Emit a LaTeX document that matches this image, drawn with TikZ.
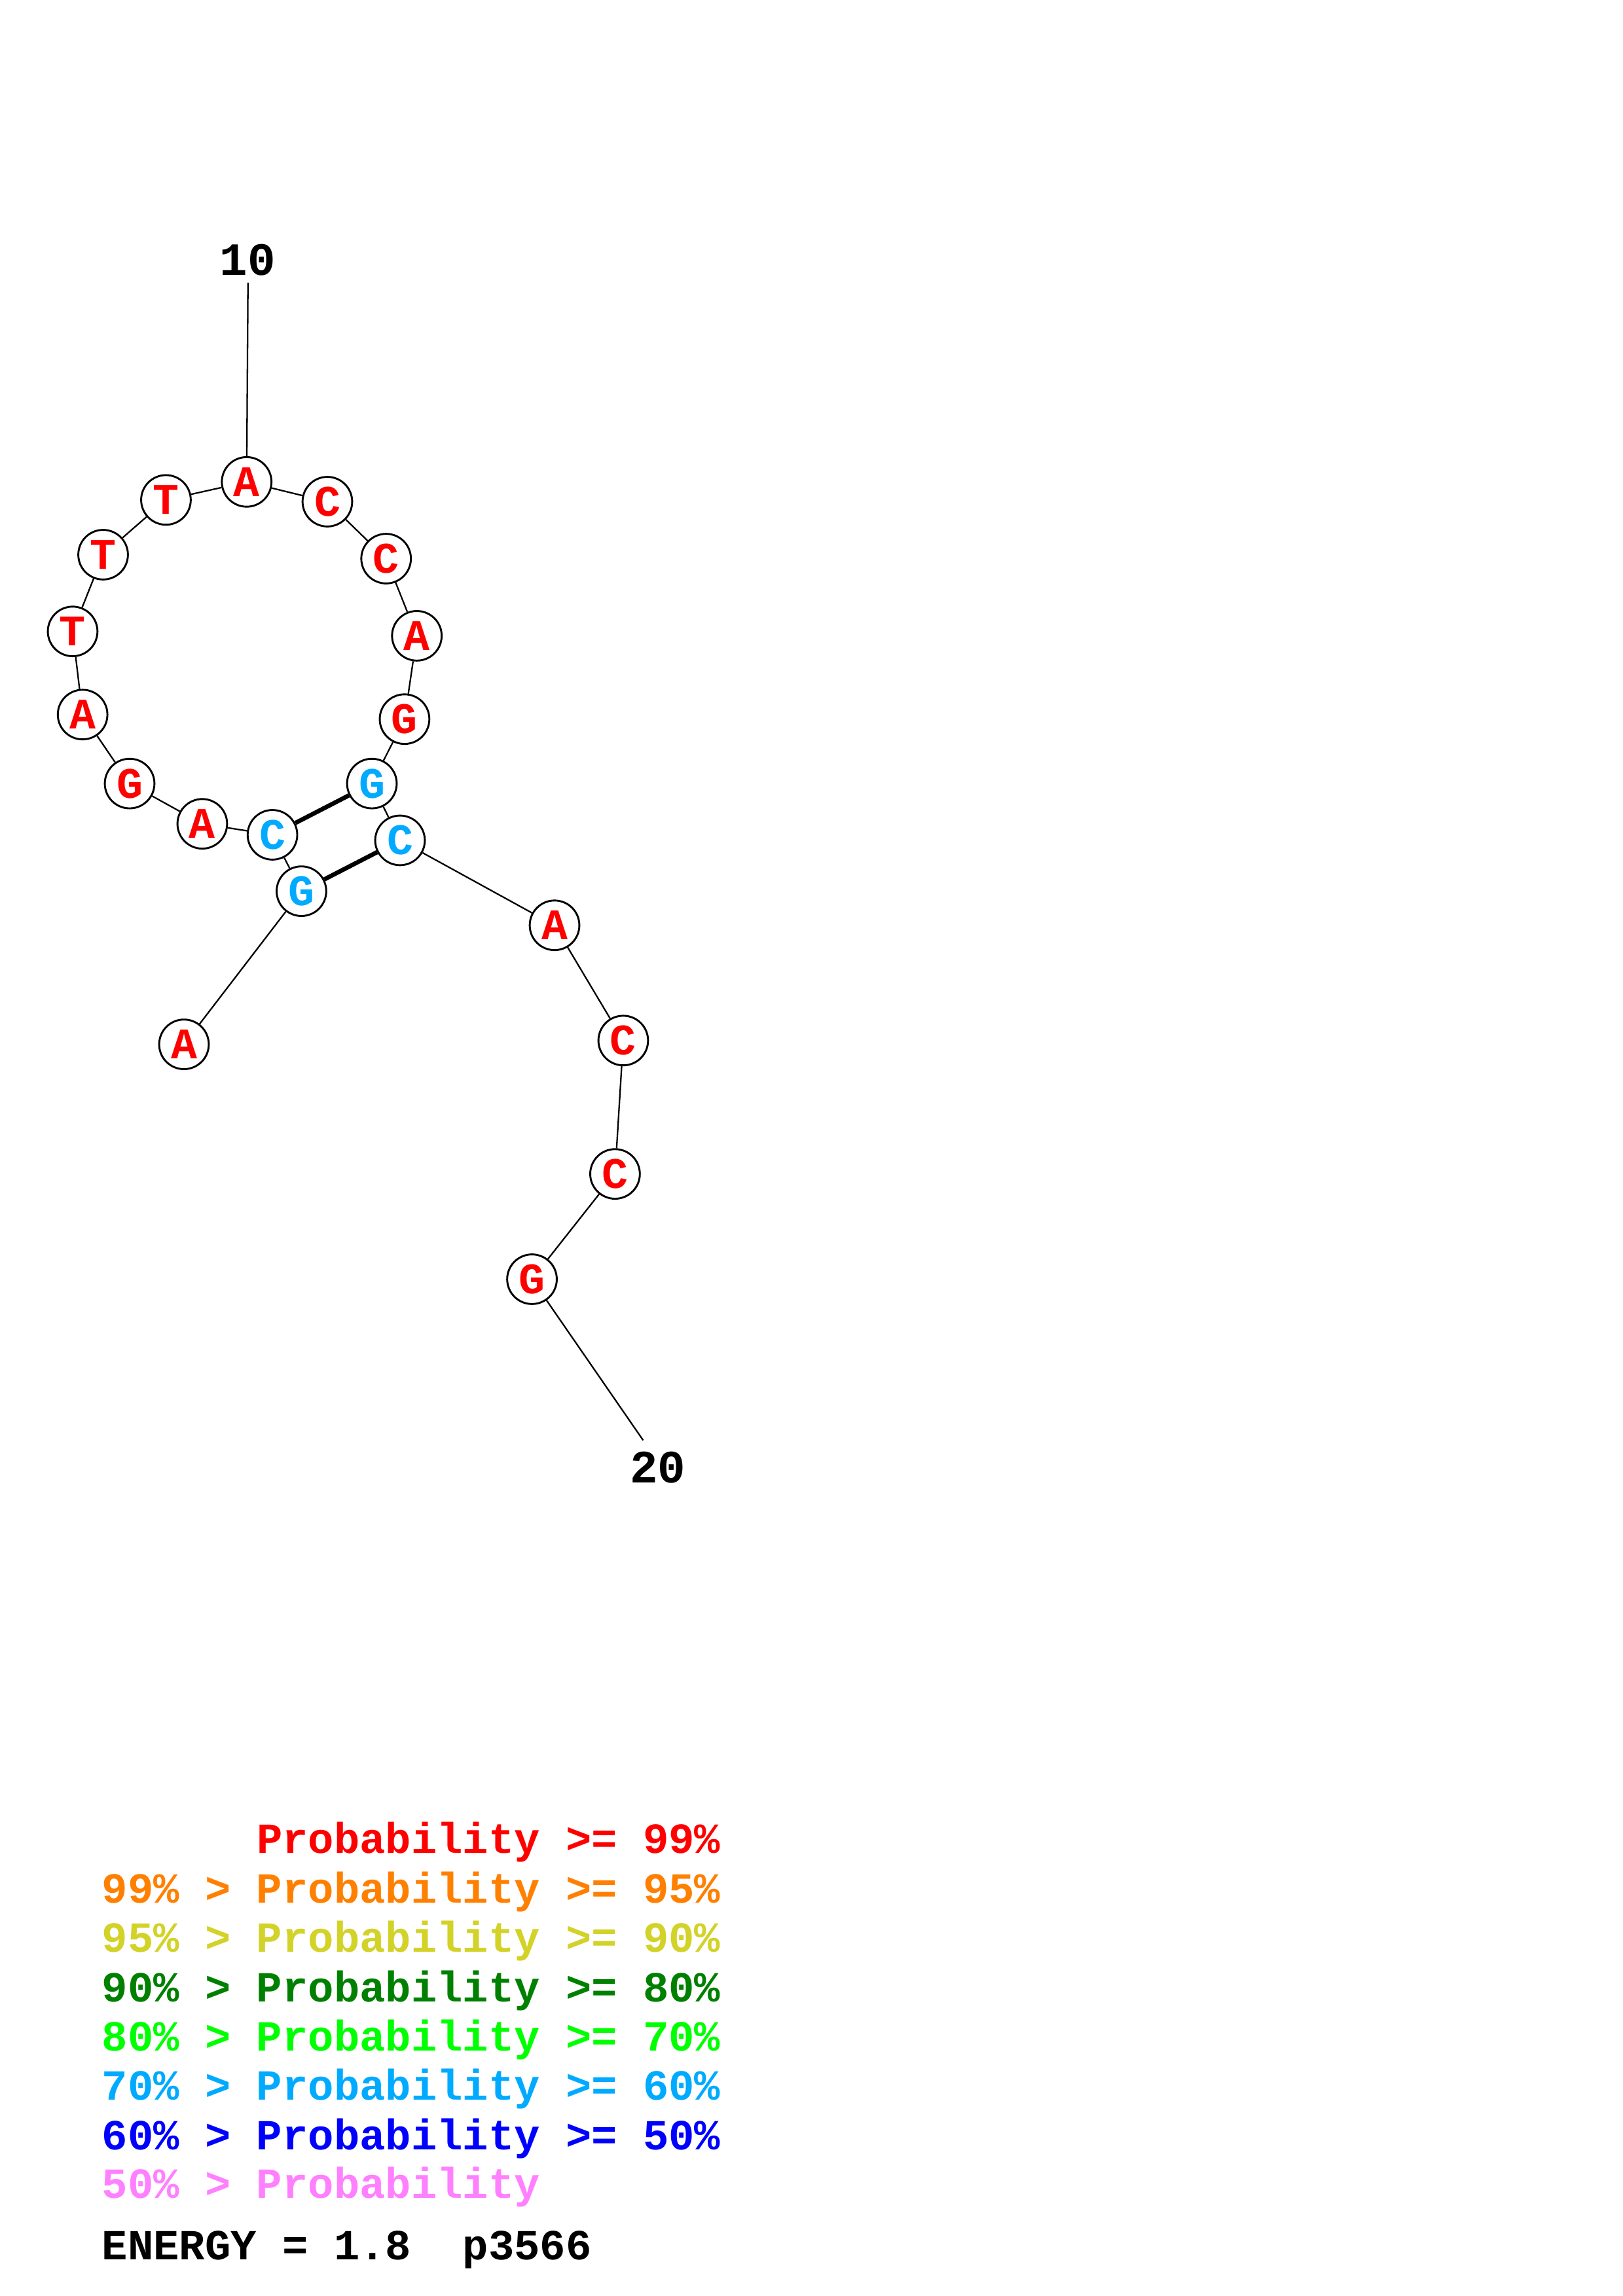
\documentclass[tikz,border=0pt]{standalone}
\usepackage{fontspec}
\setmonofont{Liberation Mono}
\usepackage{xcolor}
\definecolor{pred}{RGB}{255,0,0}
\definecolor{porange}{RGB}{255,128,0}
\definecolor{pyellow}{RGB}{210,210,40}
\definecolor{pdkgreen}{RGB}{0,128,0}
\definecolor{pgreen}{RGB}{0,255,0}
\definecolor{psky}{RGB}{0,170,255}
\definecolor{pblue}{RGB}{0,0,255}
\definecolor{ppink}{RGB}{255,128,255}

\tikzset{
  nt/.style={circle, draw=black, line width=0.7pt, fill=white, minimum size=18.2pt, inner sep=0pt,
    font=\ttfamily\bfseries\fontsize{16}{16}\selectfont},
  bb/.style={line width=0.55pt},
  bp/.style={line width=1.6pt},
  numlbl/.style={inner sep=0pt, font=\ttfamily\bfseries\fontsize{17}{17}\selectfont},
  legend/.style={anchor=base west, inner sep=0pt, font=\ttfamily\bfseries\fontsize{15.75}{15.75}\selectfont}
}

\begin{document}
\begin{tikzpicture}[x=0.5373pt, y=-0.5373pt]
\useasboundingbox (0,0) rectangle (1108,1568);
%\draw[step=50,gray,very thin] (0,0) grid (1108,1568); %background grid
\node[nt, text=pred] (n1)  at (125.6,713.2) {A}; %1
\node[nt, text=psky] (n2)  at (205.8,608.6) {G}; %2
\node[nt, text=psky] (n3)  at (186.0,570.1) {C}; %3
\node[nt, text=pred] (n4)  at (138.1,562.6) {A}; %4
\node[nt, text=pred] (n5)  at (88.5,535.1)  {G}; %5
\node[nt, text=pred] (n6)  at (56.4,488.0)  {A}; %6
\node[nt, text=pred] (n7)  at (49.6,431.2)  {T}; %7
\node[nt, text=pred] (n8)  at (70.4,378.8)  {T}; %8
\node[nt, text=pred] (n9)  at (113.3,341.4) {T}; %9
\node[nt, text=pred] (n10) at (168.4,329.1) {A}; %10
\node[nt, text=pred] (n11) at (223.5,342.6) {C}; %11
\node[nt, text=pred] (n12) at (263.6,381.5) {C}; %12
\node[nt, text=pred] (n13) at (284.6,434.2) {A}; %13
\node[nt, text=pred] (n14) at (276.2,491.1) {G}; %14
\node[nt, text=psky] (n15) at (253.9,535.1) {G}; %15
\node[nt, text=psky] (n16) at (273.1,573.9) {C}; %16
\node[nt, text=pred] (n17) at (378.6,631.9) {A}; %17
\node[nt, text=pred] (n18) at (425.5,710.6) {C}; %18
\node[nt, text=pred] (n19) at (419.9,801.7) {C}; %19
\node[nt, text=pred] (n20) at (363.2,873.6) {G}; %20
% backbone
\draw[bb] (n1)--(n2); \draw[bb] (n2)--(n3); \draw[bb] (n3)--(n4); \draw[bb] (n4)--(n5);
\draw[bb] (n5)--(n6); \draw[bb] (n6)--(n7); \draw[bb] (n7)--(n8); \draw[bb] (n8)--(n9);
\draw[bb] (n9)--(n10); \draw[bb] (n10)--(n11); \draw[bb] (n11)--(n12); \draw[bb] (n12)--(n13);
\draw[bb] (n13)--(n14); \draw[bb] (n14)--(n15); \draw[bb] (n15)--(n16); \draw[bb] (n16)--(n17);
\draw[bb] (n17)--(n18); \draw[bb] (n18)--(n19); \draw[bb] (n19)--(n20);
% pairs
\draw[bp] (n3)--(n15);
\draw[bp] (n2)--(n16);
% position labels
\coordinate (t10) at (169.3,193);
\coordinate (t20) at (439.1,983.6);
\node[numlbl] (l10) at (169,177.5) {10};
\node[numlbl] (l20) at (449,1002) {20};
\draw[bb] (t10)--(n10);
\draw[bb] (n20)--(t20);
% legend
\node[legend, text=pred]     (k1) at (69.3,1265.8) {\phantom{99\% > }Probability >= 99\%};
\node[legend, text=porange]  (k2) at (69.3,1299.5) {99\% > Probability >= 95\%};
\node[legend, text=pyellow]  (k3) at (69.3,1333.2) {95\% > Probability >= 90\%};
\node[legend, text=pdkgreen] (k4) at (69.3,1366.9) {90\% > Probability >= 80\%};
\node[legend, text=pgreen]   (k5) at (69.3,1400.6) {80\% > Probability >= 70\%};
\node[legend, text=psky]     (k6) at (69.3,1434.2) {70\% > Probability >= 60\%};
\node[legend, text=pblue]    (k7) at (69.3,1467.9) {60\% > Probability >= 50\%};
\node[legend, text=ppink]    (k8) at (69.3,1501.0) {50\% > Probability};
\node[legend, text=black]    (en) at (69.3,1543.2) {ENERGY = 1.8\ \ p3566};
\end{tikzpicture}
\end{document}
